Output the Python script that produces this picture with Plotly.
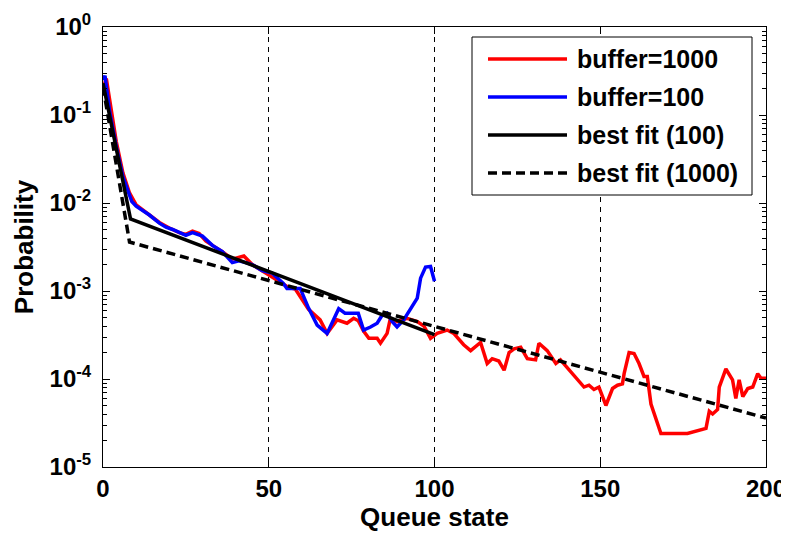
import plotly.graph_objects as go

# ---------------- data ----------------
red_q = [0, 1, 2, 3, 4, 6, 8, 10, 12, 14, 17, 20, 23, 25, 27, 29, 31, 33, 36, 39, 41, 42.5, 45, 48,
         50, 53, 56, 58, 60.5, 62, 64, 65.5, 67.6, 69, 70.6, 73.6, 75.6, 77, 78.6, 80.2, 82.7, 83.7,
         85.7, 86.7, 88.7, 91.7, 94.8, 96.8, 98.8, 100.8, 103.8, 105.8, 108.8, 110.9, 112.5, 113.9,
         115.9, 117.4, 119.4, 121, 122.5, 124, 126, 128, 130.5, 131.5, 134, 136.6, 138, 140.6, 143.1,
         145.1, 146.6, 148.1, 149.6, 151.7, 153.7, 155.2, 156.7, 157.2, 158.7, 160.2, 161.7, 163.2,
         164.2, 165.3, 168.3, 176.3, 181.9, 182.9, 183.9, 185.4, 185.9, 187.4, 187.9, 189.9, 190.9,
         191.9, 193, 194.5, 196, 197.5, 198.5, 200]
red_p = [0.2, 0.26, 0.15, 0.08, 0.05, 0.022, 0.013, 0.0095, 0.0083, 0.0073, 0.006, 0.0052, 0.0046,
         0.0044, 0.0048, 0.0045, 0.0037, 0.0033, 0.0028, 0.0023, 0.0024, 0.0025, 0.002, 0.0017,
         0.00155, 0.0013, 0.0011, 0.00105, 7.6e-4, 6.2e-4, 5.3e-4, 4.7e-4, 3.3e-4, 3.9e-4, 4.7e-4,
         4.3e-4, 4.9e-4, 4.6e-4, 3.5e-4, 2.9e-4, 2.9e-4, 2.55e-4, 3.3e-4, 4.9e-4, 4.5e-4, 4.9e-4,
         4.5e-4, 4.0e-4, 2.9e-4, 3.3e-4, 3.6e-4, 3.3e-4, 2.45e-4, 2.1e-4, 2.35e-4, 2.6e-4, 1.5e-4,
         1.7e-4, 1.6e-4, 1.26e-4, 2.0e-4, 2.2e-4, 2.3e-4, 1.7e-4, 1.65e-4, 2.55e-4, 2.1e-4, 1.5e-4,
         1.65e-4, 1.26e-4, 1.0e-4, 8.1e-5, 8.5e-5, 7.6e-5, 8.1e-5, 5.0e-5, 7.8e-5, 8.5e-5, 8.8e-5,
         1.15e-4, 2.0e-4, 1.95e-4, 1.5e-4, 1.07e-4, 1.07e-4, 5.2e-5, 2.4e-5, 2.4e-5, 2.75e-5, 4.3e-5,
         4.0e-5, 4.5e-5, 8.1e-5, 1.2e-4, 1.3e-4, 9.8e-5, 6.0e-5, 9.8e-5, 6.3e-5, 7.8e-5, 8.1e-5,
         1.15e-4, 1.02e-4, 1.02e-4]

blue_q = [0, 0.6, 2, 4, 6, 7.7, 8.7, 10, 12, 14, 17, 19, 21, 23, 25, 27, 30, 33, 36, 39, 41, 43,
          45, 48, 51, 54.4, 55.5, 59.5, 60.5, 62, 64.6, 67.6, 71.1, 73, 77, 78.6, 80.7, 82.7, 84.2,
          85.7, 87.2, 88.7, 90.7, 92.7, 94.8, 95.8, 97.3, 98.8, 100]
blue_p = [0.25, 0.28, 0.11, 0.044, 0.02, 0.0129, 0.0104, 0.0092, 0.0083, 0.0073, 0.0059, 0.0053,
          0.005, 0.0046, 0.0043, 0.0046, 0.0042, 0.0033, 0.0028, 0.0021, 0.0022, 0.0021, 0.002,
          0.0017, 0.0016, 0.00122, 0.00107, 0.00107, 8.7e-4, 6.4e-4, 4.1e-4, 3.3e-4, 6.3e-4, 5.6e-4,
          5.6e-4, 3.6e-4, 3.9e-4, 4.3e-4, 5.3e-4, 5.6e-4, 4.5e-4, 3.9e-4, 4.7e-4, 6.1e-4, 8.3e-4,
          1.4e-3, 1.87e-3, 1.9e-3, 1.29e-3]

fit100_q = [0, 8, 8.3, 100]
fit100_p = [0.23, 0.0073, 0.0066, 3.2e-4]

fit1000_q = [0, 8, 200]
fit1000_p = [0.21, 0.0036, 3.6e-5]

series_names = ["buffer=1000", "buffer=100", "best fit (100)", "best fit (1000)"]
series_colors = ["#ff0000", "#0000ff", "#000000", "#000000"]
series_dash = ["solid", "solid", "solid", "9px,5px"]

x_tickvals = [0, 50, 100, 150, 200]
y_tickvals = [1e-5, 1e-4, 1e-3, 1e-2, 1e-1, 1]
y_ticktext = ["10<sup>-5</sup>", "10<sup>-4</sup>", "10<sup>-3</sup>", "10<sup>-2</sup>",
              "10<sup>-1</sup>", "10<sup>0</sup>"]

# ---------------- figure ----------------
# the page body has an 8px default margin: the figure is sized/offset to compensate
OFF = 8
W, H = 789 - OFF, 535 - OFF
L, R, T, B = 103 - OFF, 23, 27 - OFF, 68
LW = 3.5
FONT = "Liberation Sans, Arial, sans-serif"

fig = go.Figure()
xs = [red_q, blue_q, fit100_q, fit1000_q]
ys = [red_p, blue_p, fit100_p, fit1000_p]
for xq, yp, name, col, dash in zip(xs, ys, series_names, series_colors, series_dash):
    fig.add_trace(go.Scatter(x=xq, y=yp, mode="lines", name=name,
                             line=dict(color=col, width=LW, dash=dash),
                             showlegend=False))

minor_vals = [m * 10 ** e for e in range(-5, 0) for m in range(2, 10)]

fig.update_layout(
    width=W, height=H,
    margin=dict(l=L, r=R, t=T, b=B),
    paper_bgcolor="white", plot_bgcolor="white",
    font=dict(family=FONT, color="black"),
    xaxis=dict(
        range=[0, 200], tickmode="array", tickvals=x_tickvals,
        ticks="inside", ticklen=7, tickwidth=1, tickcolor="black",
        showline=True, linecolor="black", linewidth=1, mirror="allticks",
        showgrid=True, gridcolor="black", gridwidth=1, griddash="5px,5px",
        zeroline=False, automargin=False,
        tickfont=dict(size=24, weight="bold", family=FONT),
        ticklabelstandoff=0,
        title=dict(text="Queue state", font=dict(size=26, weight="bold", family=FONT), standoff=2),
    ),
    yaxis=dict(
        type="log", range=[-5, 0], tickmode="array", tickvals=y_tickvals, ticktext=y_ticktext,
        ticks="inside", ticklen=7, tickwidth=1, tickcolor="black",
        showline=True, linecolor="black", linewidth=1, mirror="allticks",
        showgrid=False, zeroline=False, automargin=False,
        minor=dict(tickmode="array", tickvals=minor_vals, ticks="inside", ticklen=4,
                   tickcolor="black", tickwidth=1, showgrid=False),
        tickfont=dict(size=24, weight="bold", family=FONT),
        ticklabelstandoff=6,
        title=dict(text="Probability", font=dict(size=26, weight="bold", family=FONT), standoff=8),
    ),
)

# ---------------- legend (drawn as box + line samples + text) ----------------
def px_x(p):
    return (p - OFF - L) / (W - L - R)

def px_y(p):
    return (H - B - (p - OFF)) / (H - T - B)

box_x0, box_x1, box_y0, box_y1 = 472, 752, 37, 195
fig.add_shape(type="rect", xref="paper", yref="paper",
              x0=px_x(box_x0), x1=px_x(box_x1), y0=px_y(box_y1), y1=px_y(box_y0),
              line=dict(color="black", width=1), fillcolor="white", layer="above")
row_y = [59, 97, 135, 173]
for name, col, dash, ry in zip(series_names, series_colors, series_dash, row_y):
    fig.add_shape(type="line", xref="paper", yref="paper",
                  x0=px_x(488), x1=px_x(567), y0=px_y(ry), y1=px_y(ry),
                  line=dict(color=col, width=LW, dash=dash), layer="above")
    fig.add_annotation(xref="paper", yref="paper", x=px_x(575), y=px_y(ry),
                       xanchor="left", yanchor="middle", showarrow=False, text=name,
                       font=dict(size=25, weight="bold", family=FONT, color="black"))

fig.write_html("out.html")
